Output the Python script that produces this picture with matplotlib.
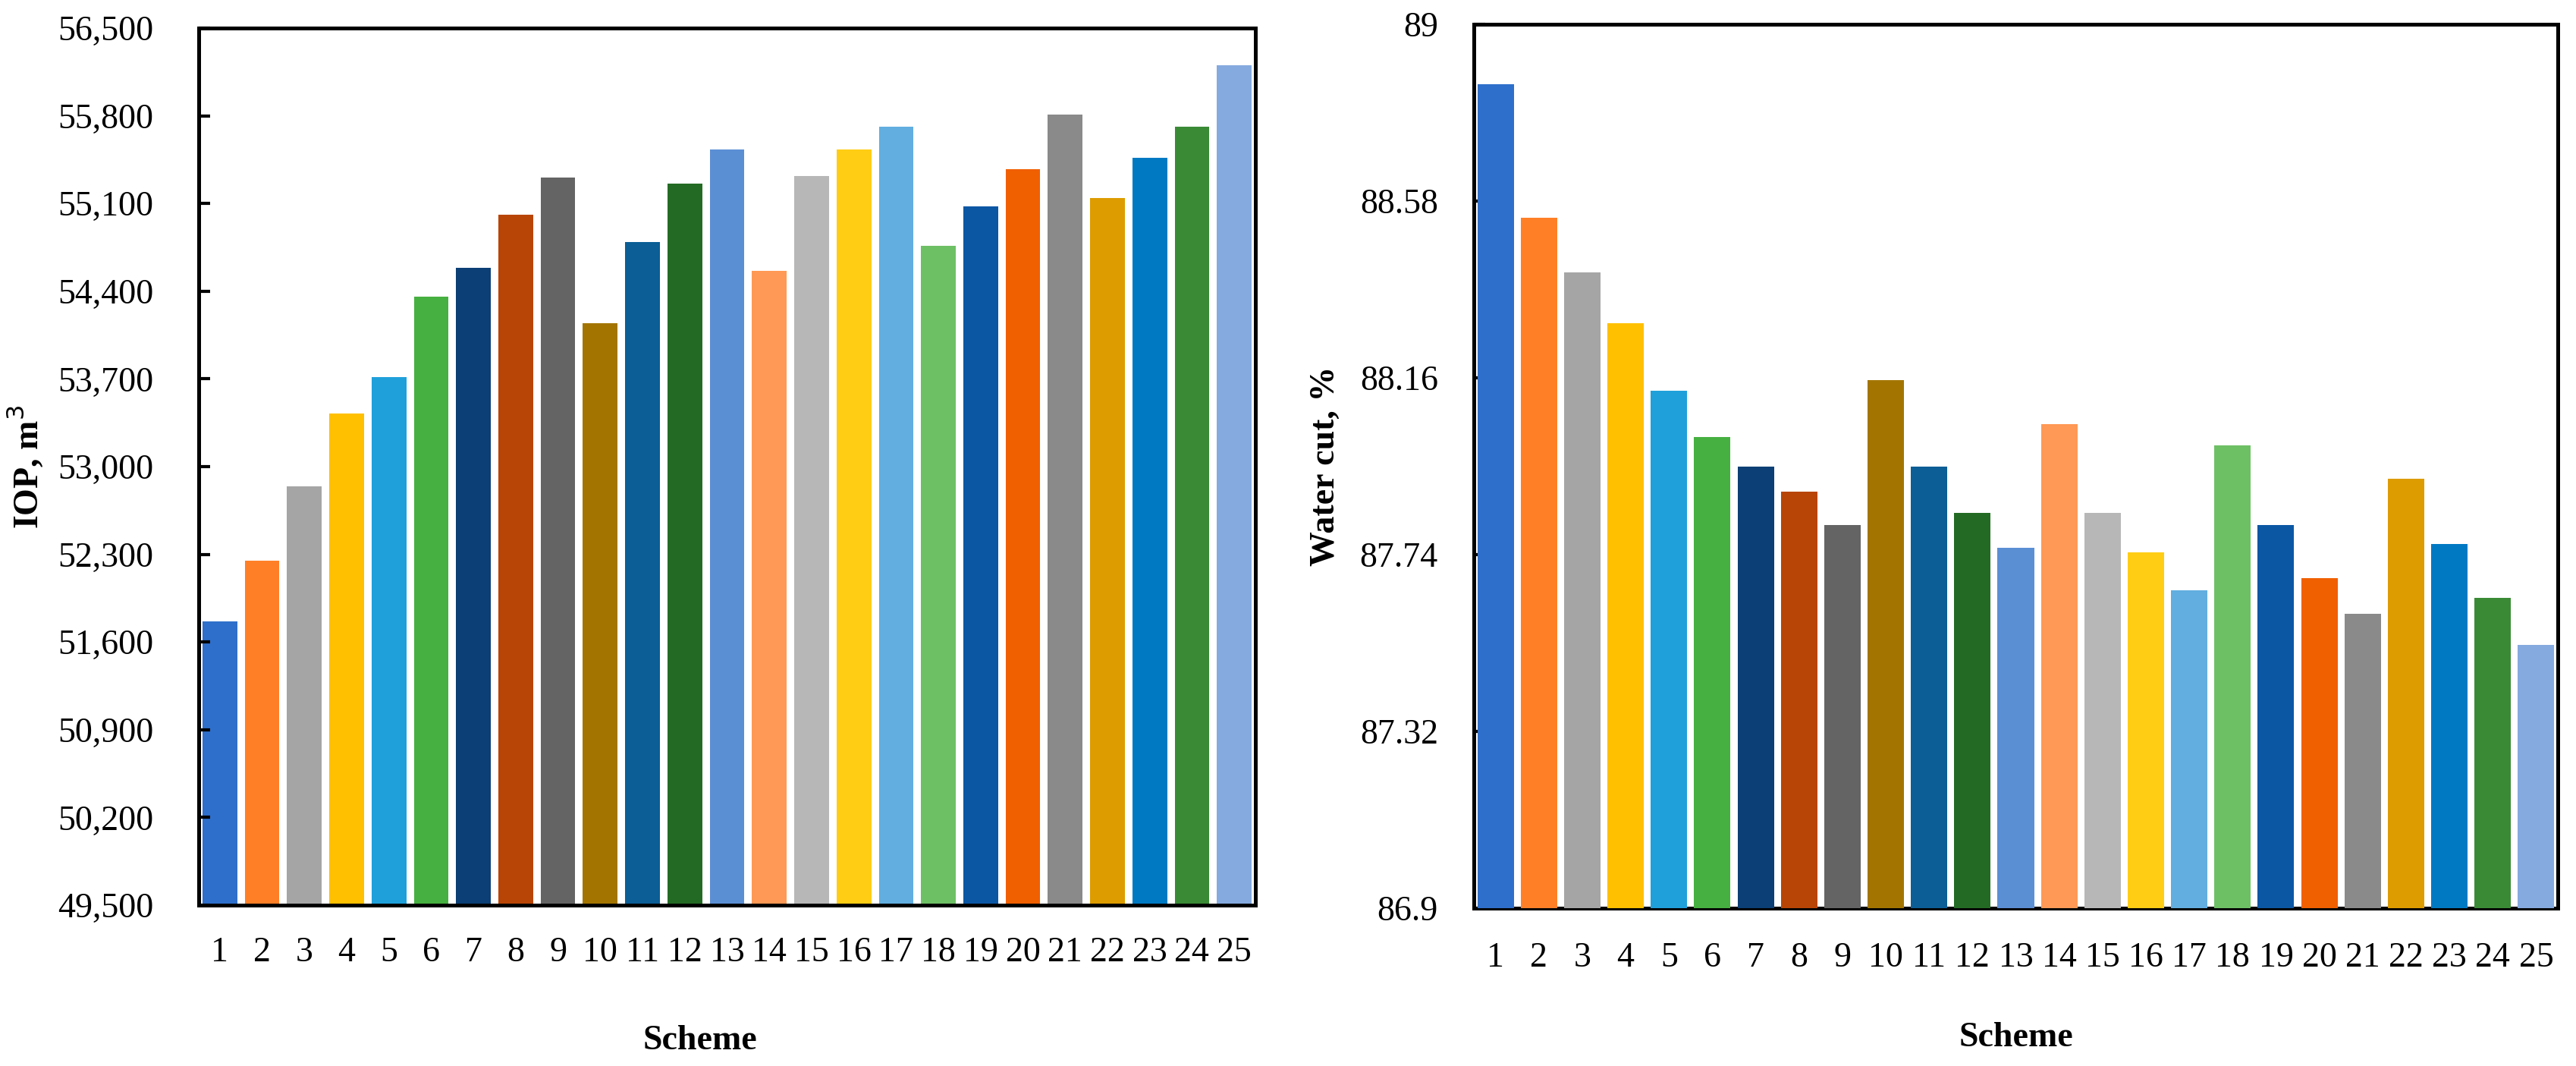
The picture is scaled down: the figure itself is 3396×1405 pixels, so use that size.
import numpy as np
import matplotlib.pyplot as plt

plt.rcParams['font.family'] = ['Liberation Serif', 'DejaVu Serif']

schemes = list(range(1, 26))

# IOP, m3 per scheme
iop = [51764, 52251, 52845, 53423, 53714, 54354, 54584, 55013, 55306, 54142,
       54791, 55257, 55531, 54563, 55320, 55531, 55713, 54761, 55078, 55371,
       55811, 55143, 55466, 55713, 56202]

# water cut, % per scheme
water_cut = [88.857, 88.54, 88.41, 88.29, 88.13, 88.02, 87.95, 87.89, 87.81, 88.155,
             87.95, 87.84, 87.757, 88.05, 87.84, 87.746, 87.655, 88.00, 87.81, 87.684,
             87.60, 87.92, 87.766, 87.637, 87.526]

iop_ticks = [49500, 50200, 50900, 51600, 52300, 53000, 53700, 54400, 55100, 55800, 56500]
wc_ticks = [86.9, 87.32, 87.74, 88.16, 88.58, 89.0]
wc_tick_labels = ['86.9', '87.32', '87.74', '88.16', '88.58', '89']

bar_colors = ['#2E6FCB', '#FF7F27', '#A5A5A5', '#FFC000', '#1FA0DB',
              '#46B040', '#0B3F75', '#B84505', '#646464', '#A37500',
              '#0B5E96', '#236B24', '#5B8FD4', '#FF9955', '#B7B7B7',
              '#FFCD14', '#62AEE0', '#6EC065', '#0B57A4', '#F05F00',
              '#8A8A8A', '#DD9C00', '#0079C3', '#3A8A35', '#85AADF']

W, H = 3396, 1405
fig = plt.figure(figsize=(W / 100, H / 100), dpi=100)

ax1 = fig.add_axes([262 / W, 1 - 1193 / H, (1655 - 262) / W, (1193 - 37) / H])
ax2 = fig.add_axes([1943 / W, 1 - 1197 / H, (3372 - 1943) / W, (1197 - 32) / H])


def style_axes(ax, ypad, xpad):
    for sp in ax.spines.values():
        sp.set_linewidth(3.6)
        sp.set_color('black')
    ax.set_xlim(0.5, 25.5)
    ax.set_xticks(schemes)
    ax.set_xticklabels([str(s) for s in schemes])
    ax.tick_params(axis='x', length=0, pad=xpad, labelsize=33)
    ax.tick_params(axis='y', direction='in', length=11, width=3,
                   pad=ypad, labelsize=33)


# left chart: IOP
base = iop_ticks[0]
ax1.bar(schemes, np.array(iop) - base, bottom=base, width=0.82,
        color=bar_colors)
ax1.set_ylim(iop_ticks[0], iop_ticks[-1])
ax1.set_yticks(iop_ticks)
ax1.set_yticklabels([f'{t:,}' for t in iop_ticks])
style_axes(ax1, 43, 30)
ax1.set_xlabel('Scheme', fontsize=33, fontweight='bold')
ax1.xaxis.set_label_coords(0.4745, -0.137)
ax1.set_ylabel('IOP, m$^3$', fontsize=33, fontweight='bold')
ax1.yaxis.set_label_coords(-0.145, 0.5)

# right chart: water cut
wbase = wc_ticks[0]
ax2.bar(schemes, np.array(water_cut) - wbase, bottom=wbase, width=0.84,
        color=bar_colors, zorder=3)
ax2.set_ylim(wc_ticks[0], wc_ticks[-1])
ax2.set_yticks(wc_ticks)
ax2.set_yticklabels(wc_tick_labels)
style_axes(ax2, 34, 32)
ax2.set_xlabel('Scheme', fontsize=33, fontweight='bold')
ax2.xaxis.set_label_coords(0.5, -0.129)
ax2.set_ylabel('Water cut, %', fontsize=33, fontweight='bold')
ax2.yaxis.set_label_coords(-0.122, 0.5)

fig.savefig('out.png', dpi=100, facecolor='white')
